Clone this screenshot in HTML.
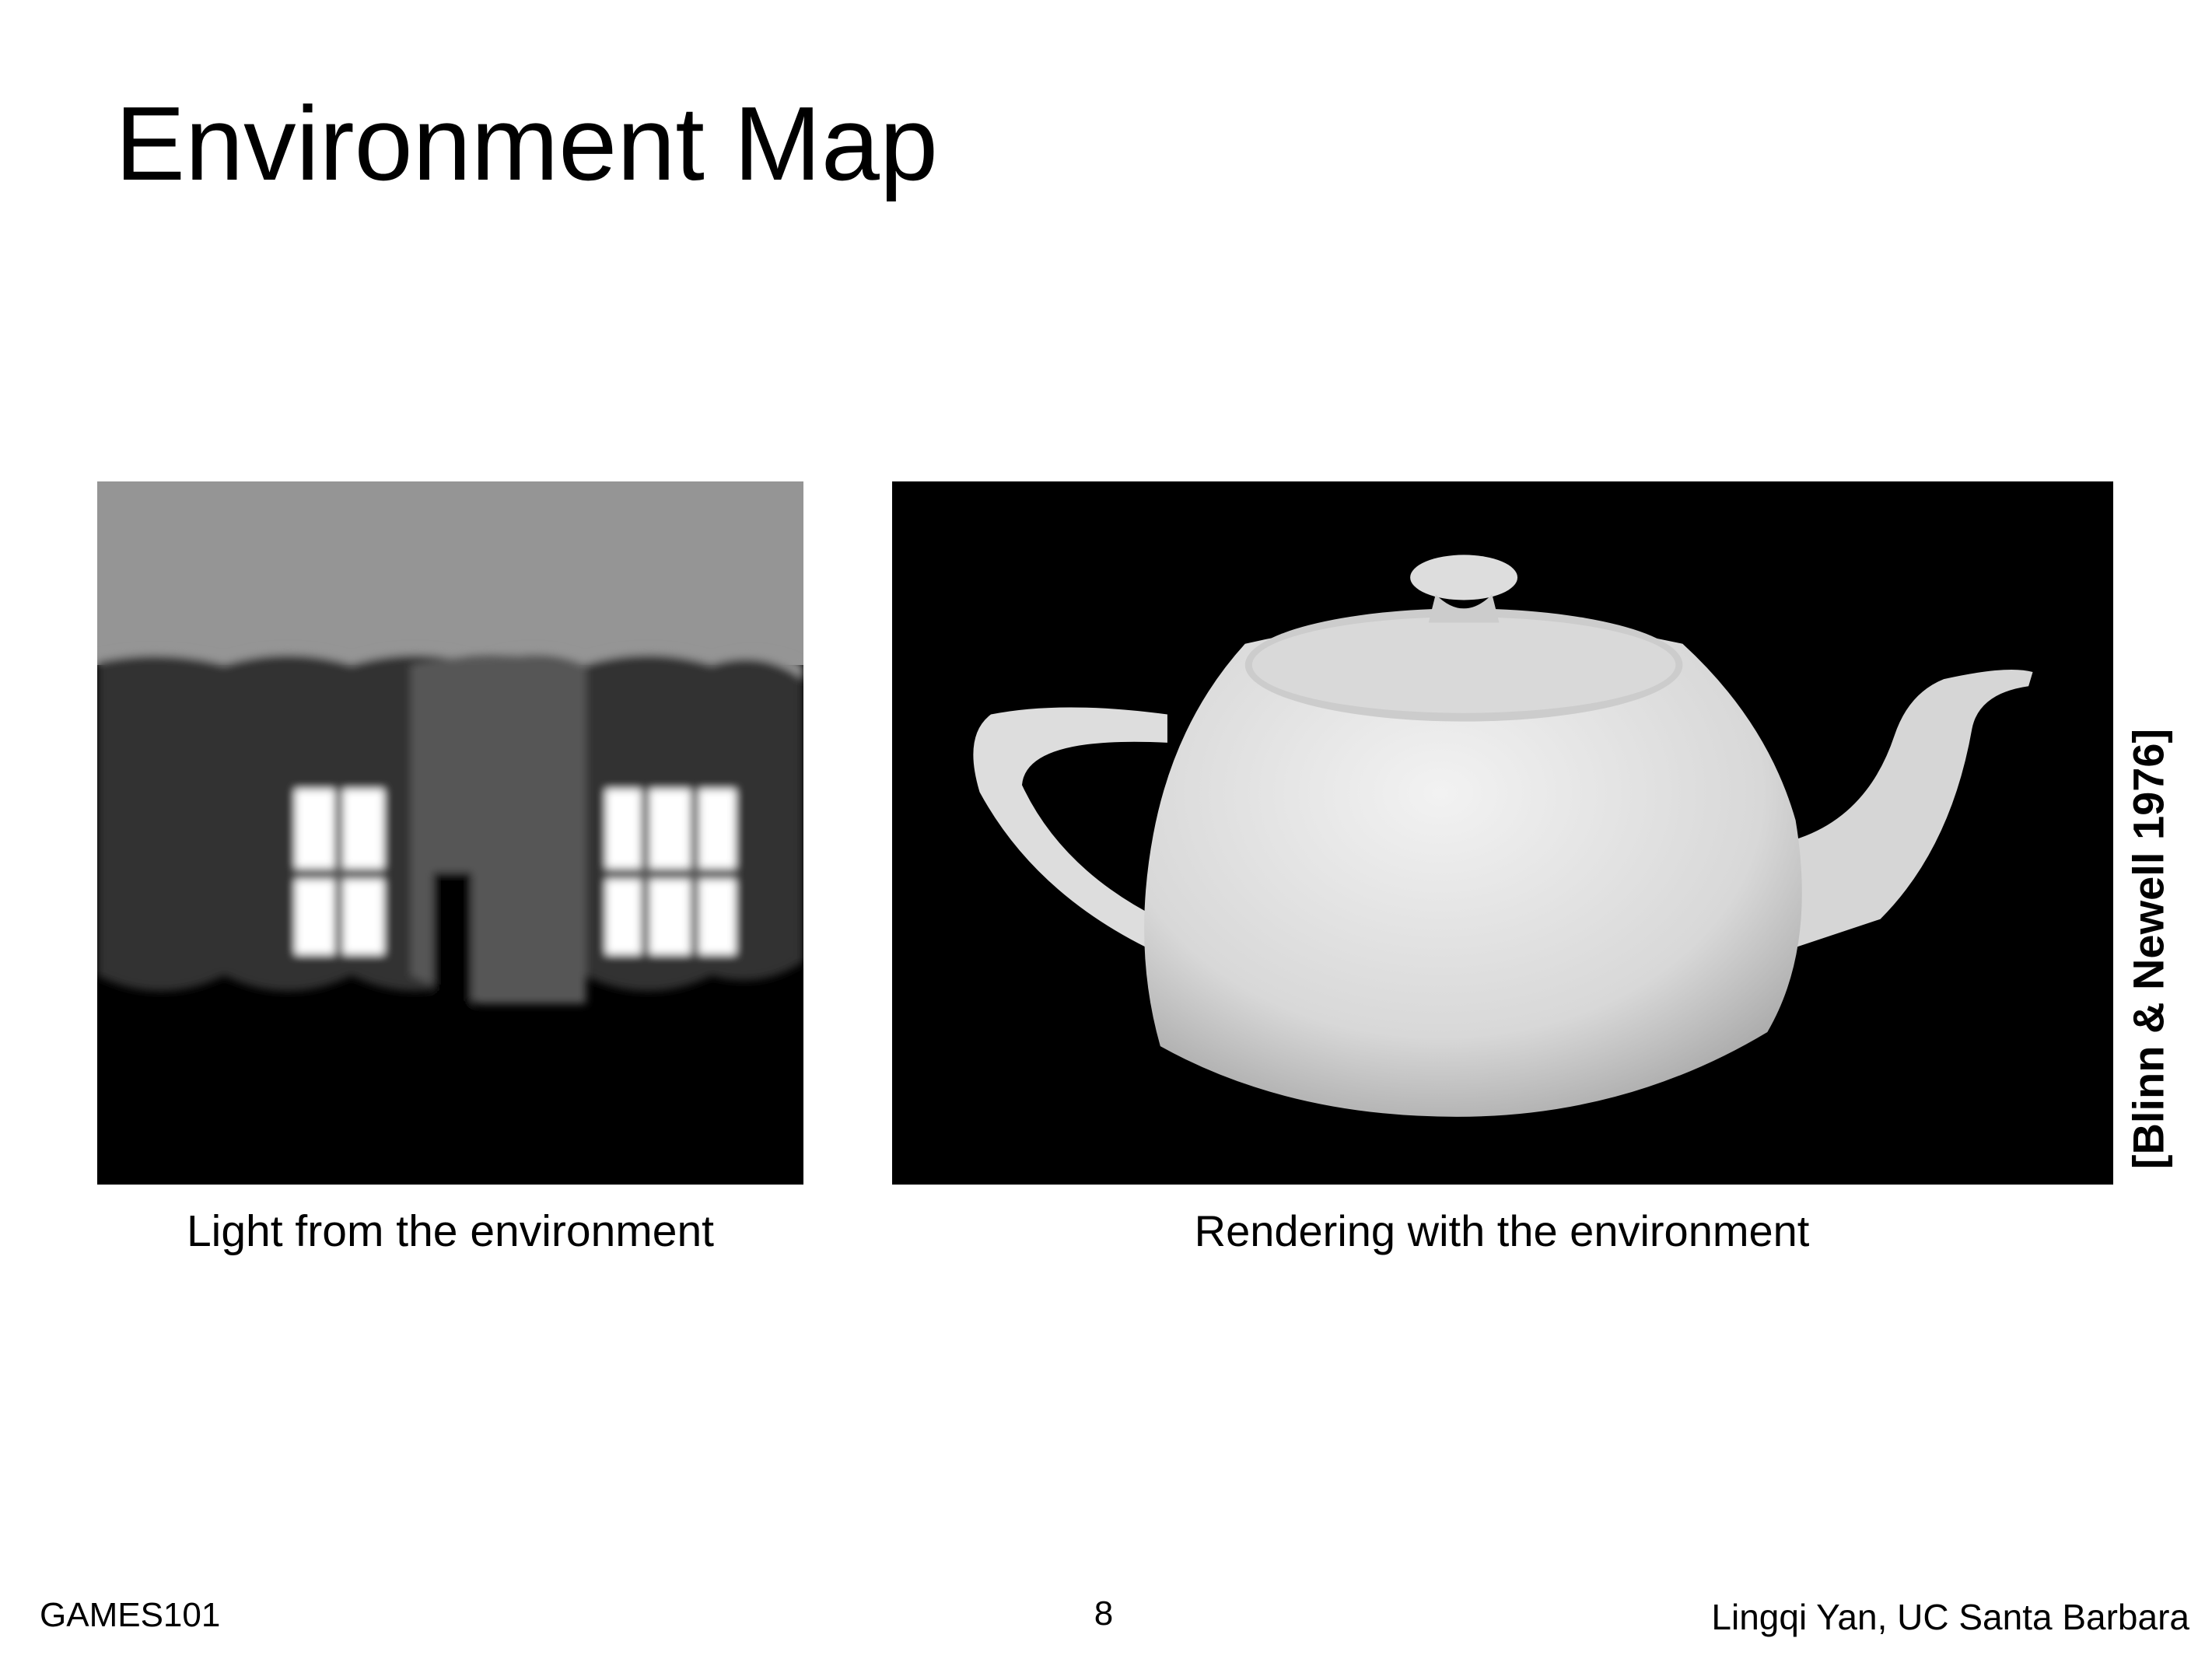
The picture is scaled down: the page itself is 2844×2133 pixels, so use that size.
<!DOCTYPE html>
<html><head><meta charset="utf-8"><style>
html,body{margin:0;padding:0;background:#fff;}
body{width:2844px;height:2133px;position:relative;overflow:hidden;font-family:"Liberation Sans",sans-serif;}
.t{position:absolute;white-space:nowrap;color:#000;}
</style></head><body>
<div class="t" style="left:148px;top:110px;font-size:135px;line-height:150px;">Environment Map</div>

<svg style="position:absolute;left:125px;top:619px" width="908" height="904" viewBox="0 0 500 498" preserveAspectRatio="none">
<defs><filter id="b"><feGaussianBlur stdDeviation="3"/></filter></defs>
<rect width="500" height="498" fill="#000"/>
<rect width="500" height="130" fill="#959595"/>
<g filter="url(#b)">
<path d="M0 124 Q45 115 90 126 Q135 112 180 126 Q225 112 270 126 Q310 112 345 126 Q390 112 435 126 Q470 114 500 130 L500 150 L0 150 Z" fill="#959595"/>
<path d="M0 128 Q45 118 90 130 Q135 116 180 130 Q225 116 270 130 Q310 116 345 130 Q390 116 435 130 Q470 118 500 140 L500 340 Q470 360 435 350 Q390 372 345 350 Q310 372 270 350 Q225 372 180 350 Q135 372 90 350 Q45 372 0 350 Z" fill="#333"/>
<path d="M222 130 Q285 116 346 130 L346 370 L270 370 L222 350 Z" fill="#575757"/>
<rect x="140" y="218" width="63" height="117" fill="#fff"/>
<rect x="360" y="218" width="92" height="117" fill="#fff"/>
<rect x="168" y="218" width="6" height="117" fill="#555"/>
<rect x="140" y="274" width="63" height="8" fill="#555"/>
<rect x="385" y="218" width="6" height="117" fill="#555"/>
<rect x="420" y="218" width="6" height="117" fill="#555"/>
<rect x="360" y="274" width="92" height="8" fill="#555"/>
<rect x="238" y="277" width="27" height="100" fill="#000"/>
</g>
</svg>

<svg style="position:absolute;left:1147px;top:619px" width="1570" height="904" viewBox="0 0 865 498" preserveAspectRatio="none">
<defs>
<radialGradient id="g" cx="0.45" cy="0.35" r="0.7"><stop offset="0" stop-color="#f2f2f2"/><stop offset="0.7" stop-color="#d8d8d8"/><stop offset="1" stop-color="#aaa"/></radialGradient>
</defs>
<rect width="865" height="498" fill="#000"/>
<path d="M195 165 Q120 155 70 165 Q50 180 62 220 Q100 290 180 330 L190 310 Q120 275 92 215 Q95 180 195 185 Z" fill="#ddd"/>
<path d="M635 255 Q690 240 710 180 Q720 150 745 140 Q790 130 808 135 L805 145 Q770 150 765 175 Q750 260 700 310 L640 330 Z" fill="#d6d6d6"/>
<path d="M250 115 Q400 80 560 115 Q620 170 640 240 Q655 330 620 390 Q520 450 400 450 Q280 450 190 400 Q170 330 185 250 Q200 170 250 115 Z" fill="url(#g)"/>
<ellipse cx="405" cy="130" rx="155" ry="40" fill="#ccc"/>
<ellipse cx="405" cy="130" rx="150" ry="34" fill="#d9d9d9"/>
<ellipse cx="405" cy="68" rx="38" ry="16" fill="#ddd"/>
<path d="M385 80 Q405 100 425 80 L430 100 L380 100 Z" fill="#ccc"/>
</svg>

<div class="t" style="left:579px;top:1550px;font-size:57px;transform:translateX(-50%);">Light from the environment</div>
<div class="t" style="left:1931px;top:1550px;font-size:56px;transform:translateX(-50%);">Rendering with the environment</div>
<div class="t" style="left:2762px;top:1220px;font-size:56px;font-weight:bold;transform:translate(-50%,-50%) rotate(-90deg);">[Blinn &amp; Newell 1976]</div>

<div class="t" style="left:51px;top:2052px;font-size:44px;">GAMES101</div>
<div class="t" style="left:1419px;top:2050px;font-size:44px;transform:translateX(-50%);">8</div>
<div class="t" style="right:29px;top:2052px;font-size:46px;">Lingqi Yan, UC Santa Barbara</div>
</body></html>
